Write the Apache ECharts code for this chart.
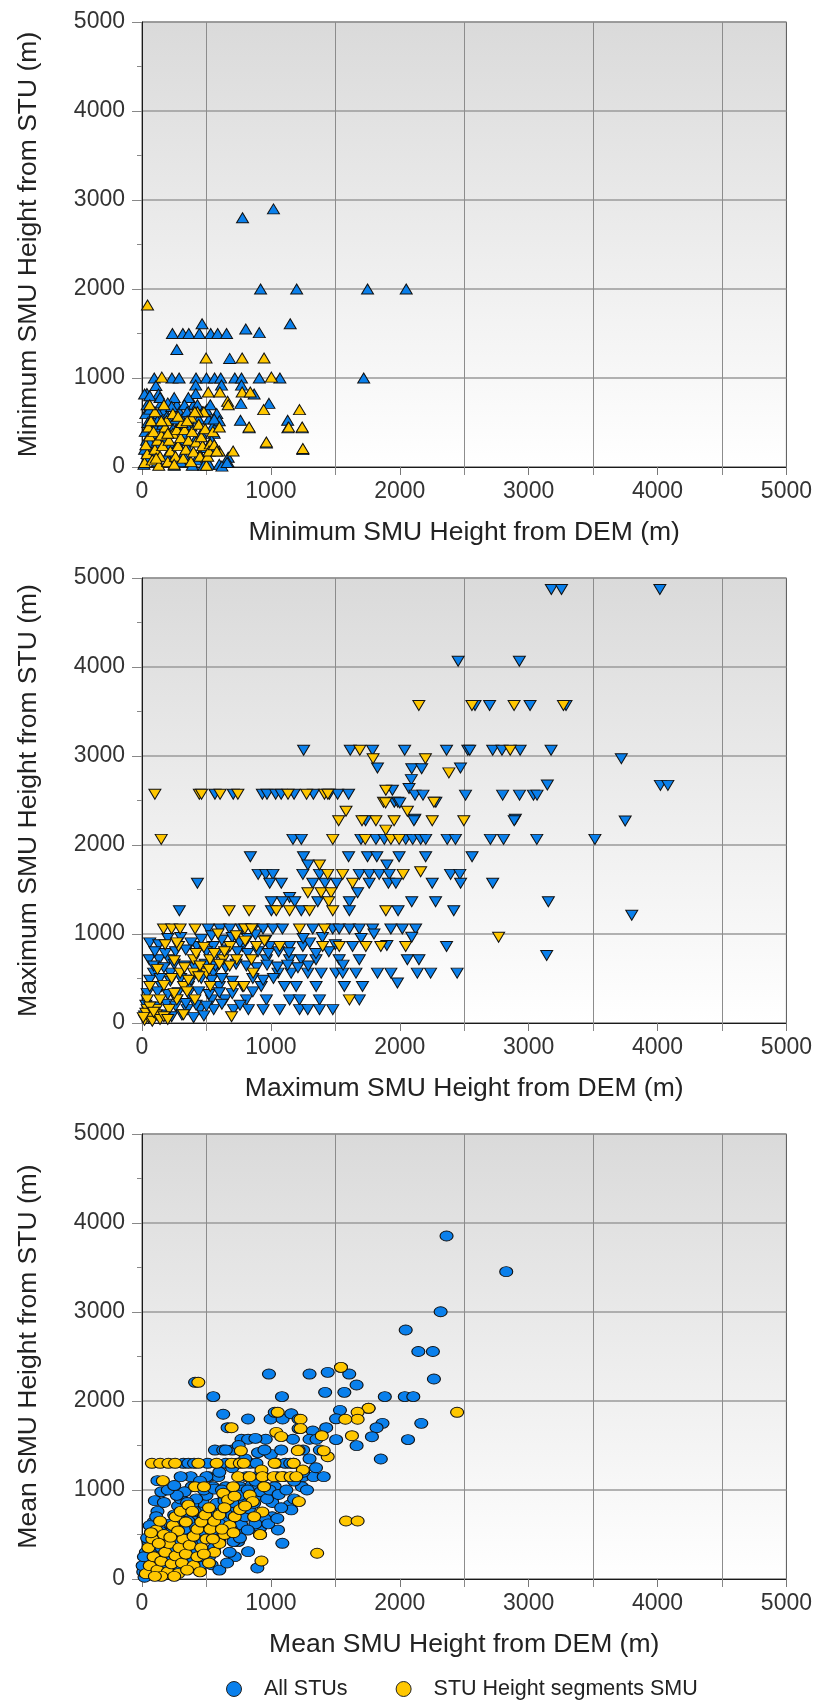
<!DOCTYPE html>
<html>
<head>
<meta charset="utf-8">
<script src="https://cdn.jsdelivr.net/npm/echarts@6/dist/echarts.min.js"></script>
<style>
html,body{margin:0;padding:0;background:#fff;}
#chart{width:815px;height:1702px;}
</style>
</head>
<body>
<div id="chart"></div>
<script>
const seriesNames = ['All STUs', 'STU Height segments SMU'];
const xTitles = ['Minimum SMU Height from DEM (m)', 'Maximum SMU Height from DEM (m)', 'Mean SMU Height from DEM (m)'];
const yTitles = ['Minimum SMU Height from STU (m)', 'Maximum SMU Height from STU (m)', 'Mean SMU Height from STU (m)'];
const tickValues = [0, 1000, 2000, 3000, 4000, 5000];

// ---- Minimum chart ----
const minAll = [
[780,2800],[1020,2900],[920,2000],[1200,2000],[1750,2000],[2050,2000],[1150,1610],[1720,1000],[805,1550],[910,1510],
[236,1500],[317,1500],[363,1500],[445,1500],[533,1500],[587,1500],[656,1500],[466,1610],[270,1320],[680,1220],
[95,1000],[232,1000],[288,1000],[419,1000],[500,1000],[563,1000],[611,1000],[720,1000],[772,1000],[910,1000],[1070,1000],
[108,915],[417,920],[617,920],[772,920],[870,820],[38,825],[128,820],[417,825],[767,715],[985,715],[764,525],[1130,525],
[669,110],[669,50],[1132,440],[1243,440],[1248,195],[965,270],[831,440],
[20,820],[40,700],[30,600],[45,500],[25,400],[35,300],[20,200],[40,100],[15,30],[60,650],[80,550],[100,450],[90,350],[110,250],
[70,150],[120,60],[150,720],[170,640],[190,560],[160,480],[200,400],[180,320],[220,240],[240,160],[210,80],[250,20],[270,700],
[290,620],[310,540],[280,460],[330,380],[300,300],[350,220],[320,140],[370,60],[390,20],[400,700],[420,620],[440,540],[380,460],
[460,380],[410,300],[480,220],[450,140],[500,80],[520,30],[430,700],[360,780],[250,780],[140,780],[330,700],[470,620],[520,540],
[550,460],[560,380],[540,300],[570,220],[500,640],[260,540],[130,600],[60,800],[200,720],[230,680],[350,620],[120,520],[240,430],
[340,480],[160,380],[280,260],[60,280],[100,180],[190,120],[300,60],[420,80],[480,20],[530,700],[580,600],[600,520],[560,540],
[600,30],[620,10],[660,50]
];
const minSeg = [
[43,1820],[497,1225],[777,1225],[947,1225],[154,1010],[1004,1010],[514,843],[604,843],[777,843],[840,843],[664,738],[669,700],
[944,645],[1222,645],[831,449],[1138,449],[1243,449],[965,281],[1248,207],[599,180],[707,180],
[20,50],[40,150],[30,250],[60,350],[50,450],[80,80],[100,200],[120,300],[90,400],[70,520],[140,120],[160,240],[150,360],[180,450],
[130,20],[200,60],[220,180],[210,300],[240,380],[190,520],[260,120],[280,240],[300,330],[270,420],[250,30],[320,100],[340,200],
[360,300],[330,420],[310,500],[380,60],[400,170],[420,280],[390,400],[440,480],[450,120],[470,240],[460,340],[490,430],[500,20],
[510,120],[530,260],[550,400],[480,620],[430,620],[380,560],[240,600],[100,620],[60,700],[170,700],[520,180],[560,250],[580,180],
[410,620],[280,570],[600,450],[350,520],[200,380],[150,520],[110,100]
];

// ---- Maximum chart ----
const maxAll = [
[3176,4870],[3255,4870],[4018,4870],[2453,4065],[2928,4065],[2584,3568],[2697,3568],[3011,3568],[3290,3568],
[1254,3064],[1616,3064],[1789,3064],[2038,3064],[2363,3064],[2528,3064],[2721,3064],[2793,3064],[2934,3064],[3174,3064],[2543,3064],
[3719,2970],[1827,2866],[2093,2856],[2170,2856],[2471,2866],[2090,2735],[3145,2675],[4022,2670],[4080,2670],
[566,2570],[708,2570],[934,2570],[970,2570],[1037,2570],[1080,2570],[1180,2570],[1330,2570],[1454,2570],[1518,2570],[1603,2570],
[1943,2615],[2072,2635],[2118,2560],[2180,2560],[2510,2560],[2798,2560],[2929,2560],[3037,2560],[3065,2560],
[1958,2480],[1985,2480],[2280,2480],[2000,2473],[2117,2290],[2897,2290],[3749,2270],[1735,2272],[2110,2272],[2888,2272],
[1171,2063],[1236,2063],[1699,2063],[1815,2063],[1880,2063],[2046,2063],[2100,2063],[2162,2063],[2201,2063],[2368,2063],
[2432,2063],[2703,2063],[2805,2063],[3063,2063],[3514,2063],
[841,1868],[1253,1868],[1603,1868],[1750,1868],[1822,1868],[1995,1868],[2201,1868],[2561,1868],[1287,1775],[1900,1775],
[901,1670],[960,1670],[1016,1670],[1248,1670],[1377,1670],[1686,1670],[1763,1670],[1840,1670],[1918,1670],[2394,1670],[2466,1670],
[430,1570],[991,1570],[1081,1570],[1325,1570],[1420,1570],[1510,1570],[1763,1570],[1912,1570],[1970,1570],[2252,1570],[2472,1570],
[2721,1570],[3800,1210],[1673,1463],[1145,1410],
[1004,1363],[1090,1363],[1185,1363],[1364,1363],[1609,1363],[2093,1363],[2278,1363],[3153,1363],
[290,1262],[1004,1262],[1236,1262],[1609,1262],[1987,1262],[2419,1262],
[514,1057],[605,1057],[680,1057],[772,1057],[862,1057],[939,1057],[1016,1057],[1090,1057],[1325,1057],[1480,1057],[1530,1057],
[1609,1057],[1686,1057],[1789,1057],[1931,1057],[2020,1057],[2123,1057],[2093,964],
[425,859],[553,859],[780,859],[990,859],[1145,859],[1248,859],[1634,859],[2363,859],[3140,758],
[56,710],[133,710],[210,710],[965,710],[1145,710],[1235,710],[1350,710],[1530,710],[1686,710],[2059,710],[2149,710],
[90,560],[220,560],[450,560],[553,560],[1055,560],[1157,560],[1286,560],[1390,560],[1505,560],[1557,560],[1660,560],[1827,560],
[1931,560],[2136,560],[2239,560],[2445,560],[1982,450],
[150,410],[360,410],[600,410],[780,410],[925,410],[1105,410],[1196,410],[1351,410],[1570,410],[1711,410],
[270,260],[540,260],[643,260],[811,260],[965,260],[1145,260],[1222,260],[1377,260],[1686,260],
[350,150],[450,150],[556,150],[710,150],[825,150],[940,150],[1068,150],[1222,150],[1286,150],[1377,150],[1480,150],
[60,900],[130,880],[200,950],[300,960],[380,900],[460,940],[540,980],[620,930],[700,960],[760,900],[820,950],[880,990],[960,930],
[100,800],[180,780],[260,800],[340,820],[420,780],[500,800],[580,780],[660,820],[740,800],[820,780],[900,800],[980,780],[1060,800],[1140,790],
[90,640],[170,620],[250,660],[330,640],[410,620],[490,660],[570,640],[650,620],[730,660],[810,640],[890,620],[970,650],[1050,630],
[1130,650],[1210,620],[1290,640],
[60,480],[140,500],[220,470],[300,500],[380,480],[460,500],[540,480],[620,500],[700,470],[860,500],[940,480],[1020,500],
[40,330],[120,350],[200,320],[280,340],[360,330],[440,350],[520,320],[600,340],[700,330],[860,350],
[30,200],[110,180],[190,210],[260,190],[340,220],[420,200],[500,190],[620,210],[760,200],
[20,80],[80,60],[150,90],[230,70],[310,90],[400,60],[480,80],
[1300,900],[1400,960],[1500,880],[1700,950],[1800,1000],[1450,800],[1350,780],[1560,650],[1250,950],[1900,870]
];
const maxSeg = [
[2148,3568],[2560,3568],[2887,3568],[3270,3568],[1690,3064],[2857,3064],[1793,2970],[2199,2970],[2381,2810],
[100,2570],[445,2570],[462,2570],[606,2570],[744,2570],[1133,2570],[1277,2570],[1416,2570],[1442,2570],[1892,2615],
[1874,2480],[2265,2480],[1890,2473],[1583,2380],[2059,2380],
[1526,2272],[1707,2272],[1815,2272],[1956,2272],[2252,2272],[2497,2272],[1892,2167],
[149,2063],[1480,2063],[1732,2063],[1931,2063],[1995,2063],[1377,1775],[2162,1700],[1441,1670],[1557,1670],[2026,1670],[1634,1570],
[1287,1463],[1390,1463],[1467,1463],[1449,1363],
[676,1262],[831,1262],[1042,1262],[1145,1262],[1300,1262],[1480,1262],[1892,1262],
[167,1057],[230,1057],[296,1057],[412,1057],[798,1057],[850,1057],[1222,1057],[1416,1057],[2767,964],
[283,859],[682,859],[888,859],[1068,859],[1402,859],[1531,859],[1737,859],[1853,859],[2046,859],
[400,710],[527,710],[630,710],[734,710],[850,710],
[296,560],[400,560],[500,560],[862,560],
[60,410],[322,410],[530,410],[710,410],[790,410],
[40,260],[140,260],[270,260],[410,260],[1609,260],
[40,150],[110,150],[210,150],[322,93],[695,70],
[20,30],[50,60],[80,20],[110,90],[140,40],[30,110],[60,180],[90,120],[170,70],[200,40],[10,60],
[250,700],[330,620],[450,640],[520,600],[600,660],[680,640],[420,780],[560,780],[640,800],[360,480],[440,520],[250,330],
[350,350],[170,420],[230,500],[120,600],[180,880],[270,900],[480,850],[590,1000],[730,980],[800,920],[950,920]
];

// ---- Mean chart ----
const meanAll = [
[2363,3854],[2826,3453],[2317,3003],[2046,2798],[2144,2556],[2257,2556],[2265,2247],[985,2303],[1300,2303],[1441,2322],
[1544,2378],[1608,2303],[1665,2180],[1421,2097],[1570,2097],[412,2210],[553,2049],[1086,2049],[1884,2049],[2039,2049],[2105,2049],
[1758,1918],[1536,1895],[1506,1800],[2167,1749],[1866,1749],[1820,1700],[1784,1599],[2064,1566],[1665,1498],[1853,1348],
[1429,1700],[1506,1566],[1325,1663],[630,1851],[823,1798],[998,1798],[1091,1798],[1030,1873],[1158,1857],[1215,1795],[1215,1690],
[664,1700],[960,1570],[772,1570],[823,1570],[1171,1570],[1300,1570],[1354,1570],[1380,1449],[566,1449],[630,1449],[700,1449],
[321,1300],[360,1300],[404,1300],[510,1300],[650,1300],[740,1300],[840,1300],[888,1300],[1042,1300],[1112,1300],[1176,1300],
[378,1150],[517,1150],[591,1150],[810,1150],[888,1150],[1050,1150],[1100,1150],[1249,1150],[1331,1150],[1410,1150],[120,1105],
[386,1037],[550,1037],[650,1037],[760,1037],[860,1037],[950,1037],[1030,1037],[1240,1037],[1011,860],[1145,831],[1158,776],
[1055,551],[1089,401],[823,307],[895,124],[720,251],[458,157],[916,573],[916,498],[746,420],
[40,40],[60,120],[80,200],[30,300],[50,420],[70,520],[90,640],[120,760],[100,880],[150,980],[130,60],[160,180],[180,300],[200,420],
[140,540],[220,620],[250,720],[280,820],[300,900],[330,980],[230,60],[260,150],[290,260],[320,360],[350,460],[380,560],[410,660],
[440,760],[470,860],[500,940],[360,120],[400,220],[430,320],[460,420],[490,520],[520,620],[550,700],[580,780],[610,860],[640,940],
[520,250],[560,350],[600,450],[630,560],[660,650],[700,720],[730,800],[760,880],[790,960],[680,300],[710,420],[740,520],[770,610],
[800,700],[830,790],[870,850],[900,940],[20,20],[10,80],[5,150],[15,250],[110,330],[190,480],[240,560],[300,660],[340,760],[390,840],
[420,900],[480,1000],[560,1010],[620,1000],[700,980],[780,1000],[850,1050],[920,980],[970,900],[1010,700],[950,680],[880,620],
[820,550],[760,460],[690,560],[600,620],[540,540],[470,660],[410,760],[350,860],[270,940],[200,1000],[170,860],[110,700],[60,600],
[40,460],[200,250],[300,500],[380,400],[450,250],[540,160],[600,100],[660,180],
[100,250],[150,350],[220,330],[270,450],[330,560],[360,650],[420,580],[480,700],[530,760],[580,850],[640,880],[700,860],[760,940],
[820,1000],[880,1100],[940,1150],[990,1000],[1060,950],[1120,1000],[1180,1100],[1250,1200],[1300,1350],[1150,1300],[1000,1400],
[900,1420],[800,1350],[700,1250],[600,1200],[500,1150],[450,1100],[250,1050],[300,1150],[650,1450],[750,1500],[880,1580],
[950,1450],[1080,1450],[1250,1450],[1350,1250],[1280,1000],[1180,900],[1080,800],[980,620],[1050,680]
];
const meanSeg = [
[437,2210],[1544,2378],[2445,1873],[1758,1918],[1673,1873],[1673,1795],[1578,1795],[1629,1610],[1395,1610],[1053,1873],
[1230,1795],[1230,1690],[1042,1648],[1080,1600],[695,1700],[1441,1374],[1410,1440],[1215,1449],[767,1440],[1209,1442],
[77,1300],[141,1300],[205,1300],[257,1300],[437,1300],[579,1300],[695,1300],[759,1300],[790,1300],[1029,1300],[1176,1300],
[927,1225],[1248,1225],[162,1105],[746,1150],[836,1150],[934,1150],[1022,1150],[1086,1150],[1153,1150],[1197,1150],
[412,1037],[481,1037],[707,1037],[947,1037],[630,963],[667,889],[718,930],[836,944],[859,870],[1217,870],[934,753],
[1583,652],[1673,652],[1359,289],[927,202],[916,498],
[30,60],[60,150],[90,250],[50,350],[80,450],[110,550],[140,650],[120,100],[150,200],[180,300],[210,400],[170,500],[240,600],
[260,700],[200,80],[230,170],[260,260],[290,350],[320,450],[280,540],[340,640],[300,760],[360,830],[390,760],[280,60],[310,180],
[340,280],[370,380],[400,480],[430,560],[460,640],[490,720],[520,800],[400,150],[430,250],[460,350],[500,450],[530,560],[560,650],
[600,720],[640,800],[450,80],[520,180],[560,300],[600,400],[640,500],[680,600],[720,700],[760,780],[250,30],[150,30],[100,30],
[350,100],[550,450],[480,280],[620,560],[710,520],[800,820],[870,700],[220,470],[130,400],[70,520]
];

const FONT = '"Liberation Sans", Arial, sans-serif';
const BLUE = '#0a80ec';
const YELLOW = '#ffc700';
const gridTops = [22, 578, 1134];

const chart = echarts.init(document.getElementById('chart'), null, {renderer: 'canvas'});

const grids = gridTops.map(t => ({
  left: 142, width: 647, top: t, height: 445,
  show: true,
  borderColor: '#555', borderWidth: 1,
  backgroundColor: {type: 'linear', x: 0, y: 0, x2: 0, y2: 1,
    colorStops: [{offset: 0, color: '#dadada'}, {offset: 1, color: '#ffffff'}]}
}));

const plainNum = v => String(v);

const xAxes = xTitles.map((name, i) => ({
  gridIndex: i, type: 'value',
  min: tickValues[0], max: tickValues[tickValues.length - 1], interval: tickValues[1] - tickValues[0],
  axisLine: {show: true, onZero: false, lineStyle: {color: '#1a1a1a', width: 1}},
  axisTick: {show: true, length: 8, lineStyle: {color: '#777'}},
  minorTick: {show: true, splitNumber: 2, length: 8, lineStyle: {color: '#888'}},
  splitLine: {show: false},
  minorSplitLine: {show: true, lineStyle: {color: '#8c8c8c', width: 1}},
  axisLabel: {fontSize: 23, color: '#333', margin: 13, fontFamily: FONT, formatter: plainNum},
  name: name, nameLocation: 'middle', nameGap: 52,
  nameTextStyle: {fontSize: 26.5, color: '#222', fontFamily: FONT}
}));

const yAxes = yTitles.map((name, i) => ({
  gridIndex: i, type: 'value',
  min: tickValues[0], max: tickValues[tickValues.length - 1], interval: tickValues[1] - tickValues[0],
  axisLine: {show: true, onZero: false, lineStyle: {color: '#1a1a1a', width: 1}},
  axisTick: {show: true, length: 10, lineStyle: {color: '#888'}},
  minorTick: {show: true, splitNumber: 2, length: 5, lineStyle: {color: '#888'}},
  splitLine: {show: true, lineStyle: {color: '#9a9a9a', width: 1.5}},
  axisLabel: {fontSize: 23, color: '#333', margin: 17, fontFamily: FONT, formatter: plainNum},
  name: name, nameLocation: 'middle', nameGap: 100,
  nameTextStyle: {fontSize: 26.5, color: '#222', fontFamily: FONT}
}));

const symDefs = [
  {symbol: 'triangle', size: [12, 10], rotate: 0},
  {symbol: 'triangle', size: [12, 10], rotate: 180},
  {symbol: 'circle', size: [13, 10], rotate: 0}
];
const dataSets = [[minAll, minSeg], [maxAll, maxSeg], [meanAll, meanSeg]];
const colors = [BLUE, YELLOW];

const series = [];
dataSets.forEach((pair, i) => {
  pair.forEach((data, j) => {
    series.push({
      name: seriesNames[j], type: 'scatter', xAxisIndex: i, yAxisIndex: i,
      symbol: symDefs[i].symbol, symbolSize: symDefs[i].size, symbolRotate: symDefs[i].rotate,
      itemStyle: {color: colors[j], borderColor: '#111', borderWidth: 1, opacity: 1},
      emphasis: {disabled: true},
      progressive: 0, large: false,
      data: data
    });
  });
});

chart.setOption({
  animation: false,
  color: colors,
  textStyle: {fontFamily: FONT},
  grid: grids,
  xAxis: xAxes,
  yAxis: yAxes,
  legend: {
    data: seriesNames, left: 226, top: 1678, padding: 0,
    icon: 'circle', itemWidth: 50, itemHeight: 15, itemGap: 48,
    itemStyle: {borderColor: '#222', borderWidth: 1},
    textStyle: {fontSize: 21.5, color: '#222', fontFamily: FONT}
  },
  series: series
});
</script>
</body>
</html>
